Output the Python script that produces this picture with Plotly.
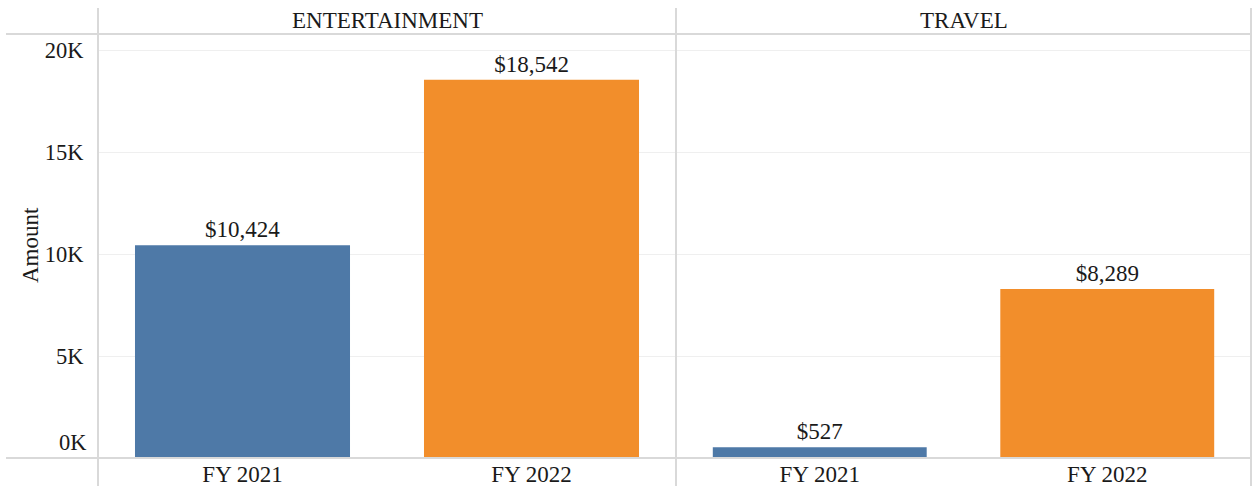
import plotly.graph_objects as go

panels = ["ENTERTAINMENT", "TRAVEL"]
years = ["FY 2021", "FY 2022"]
entertainment = [10424, 18542]
travel = [527, 8289]
bar_colors = ["#4E79A7", "#F28E2B"]
y_ticks = [0, 5000, 10000, 15000, 20000]
y_tick_text = ["0K", "5K", "10K", "15K", "20K"]

FONT = "Liberation Serif, Times New Roman, serif"
TXT = "#1a1a1a"
LINE = "#d9d9d9"
FS = 23

W, H = 1255, 486
L, R, T, B = 98, 4, 34, 28
pw, ph = W - L - R, H - T - B


def px(x):
    return (x - L) / pw


def py(y):
    return (H - B - y) / ph


split = px(676)

fig = go.Figure()
for i, (name, vals) in enumerate(zip(panels, [entertainment, travel])):
    xa = "x" if i == 0 else "x2"
    ya = "y" if i == 0 else "y2"
    fig.add_trace(go.Bar(
        x=years, y=vals, xaxis=xa, yaxis=ya,
        marker=dict(color=bar_colors, line=dict(width=0)),
        texttemplate="$%{y:,}", textposition="outside",
        textfont=dict(family=FONT, size=FS, color=TXT),
        cliponaxis=False, showlegend=False,
        hovertemplate=name + " %{x}: $%{y:,}<extra></extra>",
    ))

yrange = [0, 20000 * (H - B - T) / (H - B - 50)]
common_y = dict(range=yrange, tickvals=y_ticks, showgrid=True, gridcolor="#efefef",
                gridwidth=1, zeroline=False, showline=False, fixedrange=True, automargin=False)
common_x = dict(showgrid=False, zeroline=False, showline=False, ticks="", automargin=False,
                tickfont=dict(family=FONT, size=FS, color=TXT))

tick_text_shown = [""] + y_tick_text[1:]

fig.update_layout(
    width=W, height=H,
    margin=dict(l=L, r=R, t=T, b=B, pad=0),
    paper_bgcolor="white", plot_bgcolor="white",
    bargap=0.256,
    xaxis=dict(domain=[0, split], anchor="y", **common_x),
    xaxis2=dict(domain=[split, 1], anchor="y2", **common_x),
    yaxis=dict(anchor="x", ticktext=tick_text_shown, ticks="outside", ticklen=9,
               tickcolor="rgba(0,0,0,0)",
               tickfont=dict(family=FONT, size=FS - 0.5, color=TXT), **common_y),
    yaxis2=dict(anchor="x2", matches="y", showticklabels=False, **common_y),
    font=dict(family=FONT, color=TXT),
)

shapes = []
for yy in [34, 458]:
    shapes.append(dict(type="line", xref="paper", yref="paper", x0=px(6), x1=px(1252),
                       y0=py(yy), y1=py(yy), line=dict(color=LINE, width=2), layer="above"))
for xx in [98, 676, 1251]:
    shapes.append(dict(type="line", xref="paper", yref="paper", x0=px(xx), x1=px(xx),
                       y0=py(8), y1=py(486), line=dict(color=LINE, width=2), layer="above"))
fig.update_layout(shapes=shapes)

annotations = []
for i, name in enumerate(panels):
    cx = (0 + split) / 2 if i == 0 else (split + 1) / 2
    annotations.append(dict(text=name, x=cx, y=py(21), xref="paper", yref="paper",
                            showarrow=False, xanchor="center", yanchor="middle",
                            font=dict(family=FONT, size=FS, color=TXT)))
annotations.append(dict(text="Amount", x=px(30), y=py(245), xref="paper", yref="paper",
                        showarrow=False, textangle=-90, xanchor="center", yanchor="middle",
                        font=dict(family=FONT, size=FS, color=TXT)))
annotations.append(dict(text=y_tick_text[0], x=px(89), xref="paper", y=y_ticks[0], yref="y",
                        showarrow=False, xanchor="right", yanchor="bottom", yshift=1,
                        font=dict(family=FONT, size=FS - 0.5, color=TXT)))
fig.update_layout(annotations=annotations)

fig.write_html("out.html")
